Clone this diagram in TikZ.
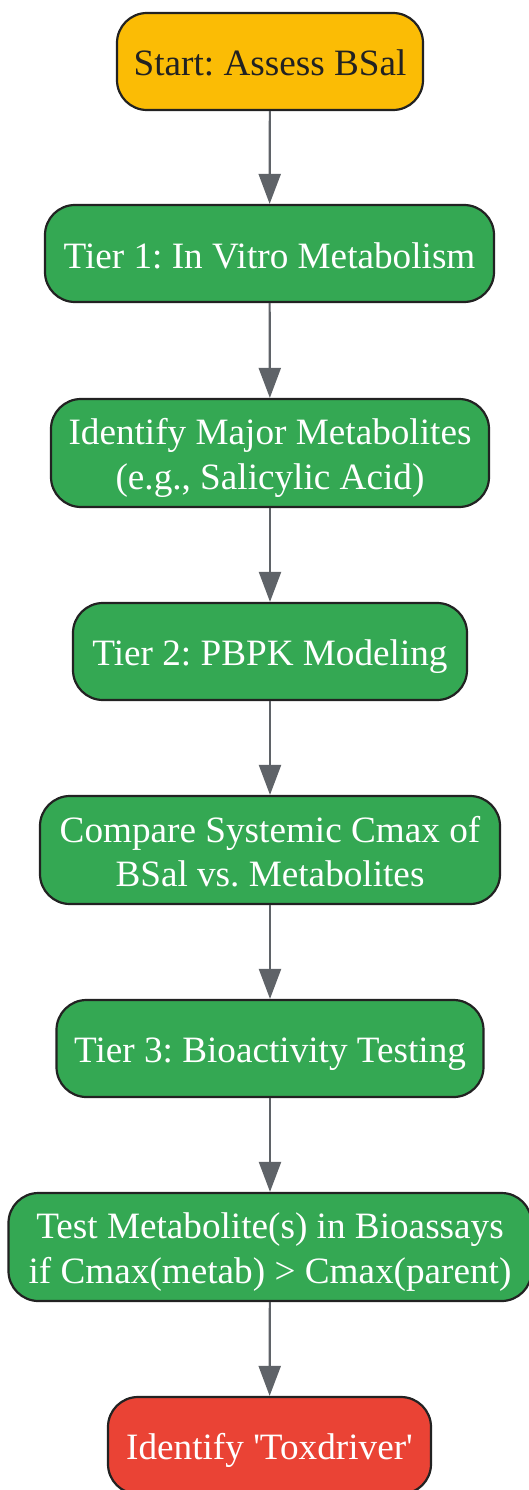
\documentclass[tikz,border=0pt]{standalone}
\usepackage{fontspec}
\setmainfont{Liberation Serif}[Ligatures=TeXOff]
\usetikzlibrary{arrows.meta}
\frenchspacing
\definecolor{gyellow}{HTML}{FBBC05}
\definecolor{ggreen}{HTML}{34A853}
\definecolor{gred}{HTML}{EA4335}
\definecolor{gborder}{HTML}{222222}
\definecolor{garrow}{HTML}{5F6368}
\definecolor{gtext}{HTML}{222222}
\newcommand{\lnstrut}{\rule[-6.5bp]{0pt}{42bp}}
\tikzset{
  box/.style={draw=gborder, line width=2.2bp, rounded corners=30bp, inner sep=0pt,
    align=center, text=white, font=\frenchspacing\fontsize{37.2bp}{43bp}\selectfont},
  onel/.style={box, minimum height=97bp},
  twol/.style={box, minimum height=108bp},
  flow/.style={draw=garrow, line width=2.2bp, -{Triangle[length=30bp,width=22bp]}}
}
\begin{document}
\begin{tikzpicture}[x=1bp,y=-1bp]
\useasboundingbox (0,0) rectangle (529,1490);
\node[onel, fill=gyellow, text=gtext, minimum width=306bp] (n1) at (270,61.5) {\lnstrut Start: Assess BSal};
\node[onel, fill=ggreen, minimum width=449bp] (n2) at (269.5,253.5) {\lnstrut Tier 1: In Vitro Metabolism};
\node[twol, fill=ggreen, minimum width=438bp] (n3) at (270,453) {\lnstrut Identify Major Metabolites\\\lnstrut (e.g., Salicylic Acid)};
\node[onel, fill=ggreen, minimum width=394bp] (n4) at (270,651.5) {\lnstrut Tier 2: PBPK Modeling};
\node[twol, fill=ggreen, minimum width=460bp] (n5) at (270,850) {\lnstrut Compare Systemic Cmax of\\\lnstrut BSal vs. Metabolites};
\node[onel, fill=ggreen, minimum width=427bp] (n6) at (270,1048.5) {\lnstrut Tier 3: Bioactivity Testing};
\node[twol, fill=ggreen, minimum width=523bp] (n7) at (270,1247) {\lnstrut Test Metabolite(s) in Bioassays\\\lnstrut if Cmax(metab) > Cmax(parent)};
\node[onel, fill=gred, minimum width=323bp] (n8) at (269.5,1445.5) {\lnstrut Identify 'Toxdriver'};
\draw[flow] (n1) -- (n2);
\draw[flow] (n2) -- (n3);
\draw[flow] (n3) -- (n4);
\draw[flow] (n4) -- (n5);
\draw[flow] (n5) -- (n6);
\draw[flow] (n6) -- (n7);
\draw[flow] (n7) -- (n8);
\end{tikzpicture}
\end{document}
